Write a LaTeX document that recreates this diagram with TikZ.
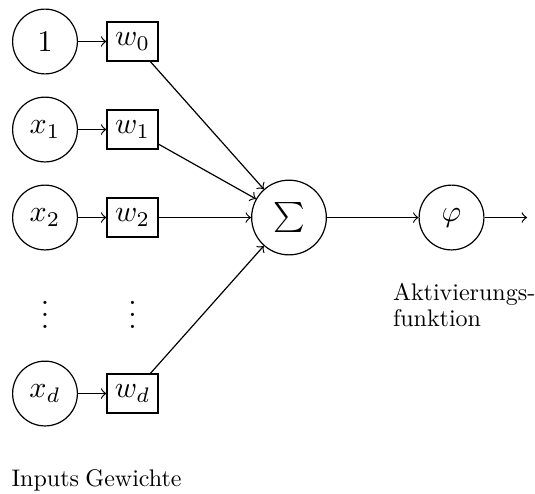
\documentclass[tikz,border=0pt]{standalone}
\usepackage{fontspec}
\newfontfamily\lmtendesign{lmroman10-regular.otf}
\usetikzlibrary{arrows}
\begin{document}
\begin{tikzpicture}[x=1pt,y=-1pt,
  inp/.style={circle,draw,minimum size=21.6pt,inner sep=1pt},
  wbox/.style={rectangle,draw,minimum width=17pt,minimum height=13pt,inner sep=2pt},
  sumnode/.style={circle,draw,minimum size=24.9pt,inner sep=1pt},
  actnode/.style={circle,draw,minimum size=21.6pt,inner sep=1pt},
  lbl/.style={font=\lmtendesign\fontsize{8}{8.67}\selectfont,inner sep=0pt},
  conn/.style={->}
]
\useasboundingbox (0,0) rectangle (178.33,164.33);
% inputs
\node[inp] (x0) at (15,13.83) {$1$};
\node[inp] (x1) at (15,43.17) {$x_1$};
\node[inp] (x2) at (15,72.5) {$x_2$};
\node (xdots) at (15,101.83) {$\vdots$};
\node[inp] (xd) at (15,131.17) {$x_d$};
% weights
\node[wbox] (w0) at (44.17,13.83) {$w_0$};
\node[wbox] (w1) at (44.17,43.17) {$w_1$};
\node[wbox] (w2) at (44.17,72.5) {$w_2$};
\node (wdots) at (44.17,101.83) {$\vdots$};
\node[wbox] (wd) at (44.17,131.17) {$w_d$};
% sum and activation
\node[sumnode] (sum) at (96.33,72.5) {$\sum$};
\node[actnode] (act) at (150.5,72.5) {$\varphi$};
\coordinate (out) at (175.7,72.5);
% connectors
\draw[conn] (x0) -- (w0);
\draw[conn] (x1) -- (w1);
\draw[conn] (x2) -- (w2);
\draw[conn] (xd) -- (wd);
\draw[conn] (w0) -- (sum);
\draw[conn] (w1) -- (sum);
\draw[conn] (w2) -- (sum);
\draw[conn] (wd) -- (sum);
\draw[conn] (sum) -- (act);
\draw[conn] (act) -- (out);
% labels
\node[lbl,anchor=base] (linp) at (15.1,162.2) {Inputs};
\node[lbl,anchor=base] (lw) at (44.5,162.2) {Gewichte};
\node[lbl,anchor=north west,align=left] (lact) at (130.8,94.1) {Aktivierungs-\\funktion};
\end{tikzpicture}
\end{document}
